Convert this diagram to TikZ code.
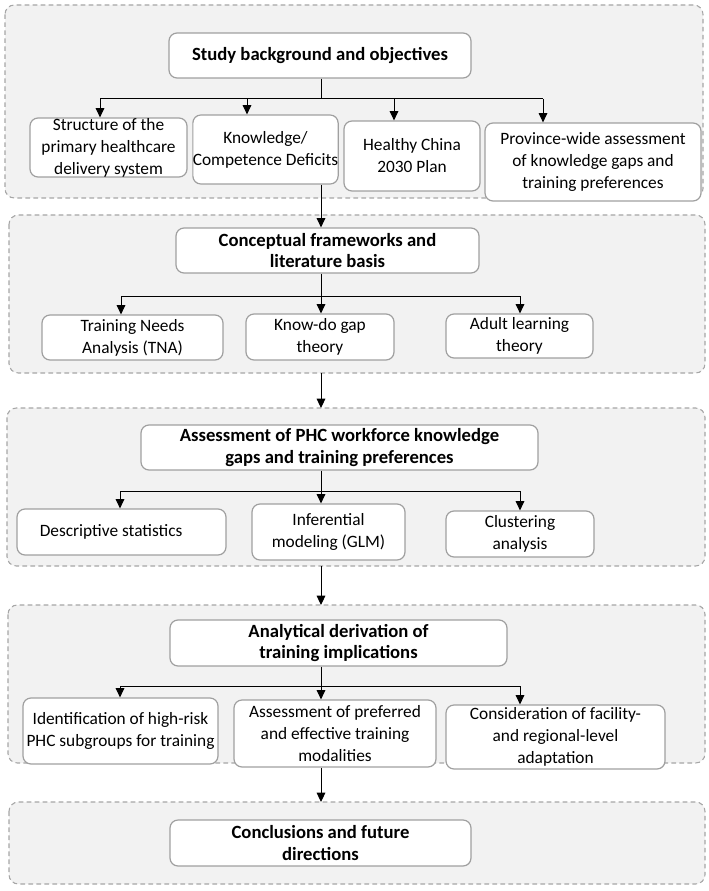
\documentclass[tikz,border=0pt]{standalone}
\usepackage{fontspec}
\setmainfont{Carlito}
\usetikzlibrary{arrows.meta}
\definecolor{grpfill}{HTML}{F2F2F2}
\definecolor{grpline}{HTML}{A6A6A6}
\definecolor{boxline}{HTML}{A0A0A0}
\tikzset{
  grp/.style={draw=grpline, fill=grpfill, line width=0.8pt, dash pattern=on 3.5pt off 2.5pt, rounded corners=7pt},
  box/.style={draw=boxline, fill=white, line width=0.9pt, rounded corners=6pt, align=center, inner sep=0pt,
              font=\fontsize{13}{16.5}\selectfont},
  ttl/.style={box, font=\fontsize{14}{16}\selectfont\bfseries},
  arr/.style={draw=black, line width=0.75pt, -{Triangle[length=7pt,width=6.5pt]}},
  ln/.style={draw=black, line width=0.75pt},
}
% box at (x1,y1)-(x2,y2) in pixel units
\newcommand{\pbox}[7]{\node[#1, minimum width={(#4-#2)*0.75pt}, minimum height={(#5-#3)*0.75pt}] (#6) at ({(#2+#4)/2},{(#3+#5)/2}) {#7};}
\begin{document}
\begin{tikzpicture}[x=0.75pt,y=-0.75pt]
\useasboundingbox (0,0) rectangle (708,891);
% groups
\draw[grp] (5,5) rectangle (703,198);
\draw[grp] (9,215) rectangle (705,373);
\draw[grp] (7,408) rectangle (705,566);
\draw[grp] (8,605) rectangle (705,763);
\draw[grp] (9,802) rectangle (705,884);
\coordinate (g2s) at (321,373);
\coordinate (g3n) at (321,408);
\coordinate (g3s) at (321,566);
\coordinate (g4n) at (321,605);
\coordinate (g5n) at (321,802);
\coordinate (spine) at (321,0);

% group 1
\pbox{ttl}{169}{33}{471}{78}{t1}{Study background and objectives}
\pbox{box}{30}{118}{187}{177}{c11}{Structure of the\\primary healthcare\\delivery system}
\pbox{box}{194}{115}{337}{184}{c12}{Knowledge/\\Competence Deficits}
\pbox{box}{344}{121}{480}{191}{c13}{Healthy China\\2030 Plan}
\pbox{box}{485}{123}{701}{201}{c14}{Province-wide assessment\\of knowledge gaps and\\training preferences}
\coordinate (j1) at (321,99);
\coordinate (a11) at (100,0);
\coordinate (a12) at (247,0);
\coordinate (a13) at (394,0);
\coordinate (a14) at (543,0);
\draw[ln] (t1.south -| spine) -- (j1);
\draw[ln] (a11 |- j1) -- (a14 |- j1);
\draw[arr] (a11 |- j1) -- (c11.north -| a11);
\draw[arr] (a12 |- j1) -- (c12.north -| a12);
\draw[arr] (a13 |- j1) -- (c13.north -| a13);
\draw[arr] (a14 |- j1) -- (c14.north -| a14);

% group 2
\pbox{ttl}{176}{228}{479}{273}{t2}{Conceptual frameworks and\\literature basis}
\pbox{box}{42}{315}{223}{360}{c21}{Training Needs\\Analysis (TNA)}
\pbox{box}{246}{314}{394}{360}{c22}{Know-do gap\\theory}
\pbox{box}{446}{314}{593}{358}{c23}{Adult learning\\theory}
\draw[arr] (c12.south -| spine) -- (t2.north -| spine);
\coordinate (j2) at (321,296);
\coordinate (a21) at (121,0);
\coordinate (a23) at (520,0);
\draw[ln] (t2.south -| spine) -- (j2);
\draw[ln] (a21 |- j2) -- (a23 |- j2);
\draw[arr] (a21 |- j2) -- (c21.north -| a21);
\draw[arr] (j2) -- (c22.north -| spine);
\draw[arr] (a23 |- j2) -- (c23.north -| a23);

% group 3
\draw[arr] (g2s) -- (g3n);
\pbox{ttl}{141}{425}{538}{470}{t3}{Assessment of PHC workforce knowledge\\gaps and training preferences}
\pbox{box}{17}{509}{226}{555}{c31}{Descriptive statistics\hspace*{1.2em}}
\pbox{box}{252}{504}{405}{560}{c32}{Inferential\\modeling (GLM)}
\pbox{box}{446}{511}{594}{557}{c33}{Clustering\\analysis}
\coordinate (j3) at (321,491);
\coordinate (a31) at (120,0);
\coordinate (a33) at (520,0);
\draw[ln] (t3.south -| spine) -- (j3);
\draw[ln] (a31 |- j3) -- (a33 |- j3);
\draw[arr] (a31 |- j3) -- (c31.north -| a31);
\draw[arr] (j3) -- (c32.north -| spine);
\draw[arr] (a33 |- j3) -- (c33.north -| a33);

% group 4
\draw[arr] (g3s) -- (g4n);
\pbox{ttl}{170}{620}{507}{666}{t4}{Analytical derivation of\\training implications}
\pbox{box}{23}{698}{218}{764}{c41}{Identification of high-risk\\PHC subgroups for training}
\pbox{box}{234}{700}{436}{767}{c42}{Assessment of preferred\\and effective training\\modalities}
\pbox{box}{446}{705}{665}{769}{c43}{Consideration of facility-\\and regional-level\\adaptation}
\coordinate (j4) at (321,686);
\coordinate (a41) at (120,0);
\coordinate (a43) at (520,0);
\draw[ln] (t4.south -| spine) -- (j4);
\draw[ln] (a41 |- j4) -- (a43 |- j4);
\draw[arr] (a41 |- j4) -- (c41.north -| a41);
\draw[arr] (j4) -- (c42.north -| spine);
\draw[arr] (a43 |- j4) -- (c43.north -| a43);

% group 5
\draw[arr] (c42.south -| spine) -- (g5n);
\pbox{ttl}{170}{820}{471}{866}{t5}{Conclusions and future\\directions}
\end{tikzpicture}
\end{document}
